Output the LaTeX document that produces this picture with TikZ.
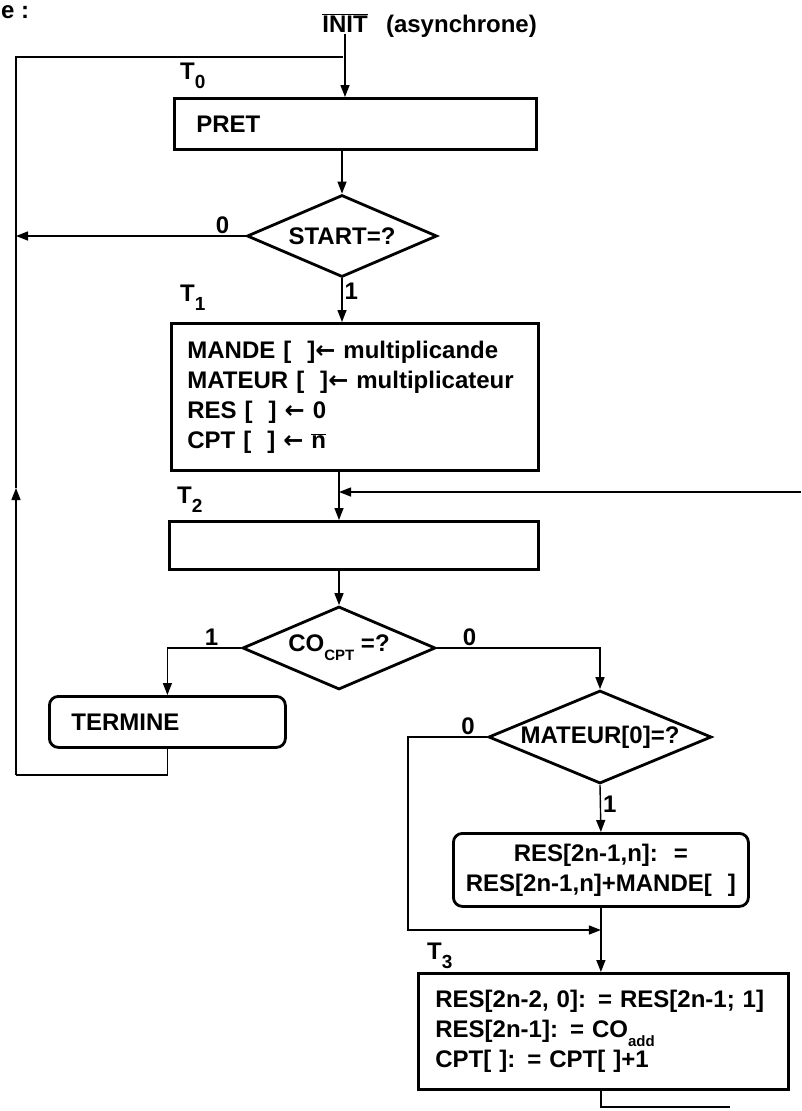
\documentclass[tikz,border=0pt]{standalone}
\usepackage{fontspec}
\setmainfont{Liberation Sans}
\newfontfamily\flechefont{DejaVu Sans}
\usetikzlibrary{shapes.geometric,arrows.meta,positioning}

% indices abaisses (T0, COcpt, COadd) et fleche d'affectation
\newcommand\lowsub[1]{\raisebox{-9pt}{\fontsize{19}{19}\selectfont #1}}
\newcommand\petitsub[1]{\raisebox{-9pt}{\fontsize{15}{15}\selectfont #1}}
\newcommand\recoit{{\flechefont\bfseries ←}}

\tikzset{
  bloc/.style={draw, line width=2.8pt, anchor=north west, inner xsep=0pt, inner ysep=0pt, align=left},
  arrondi/.style={bloc, rounded corners=9pt},
  test/.style={draw, diamond, line width=2.8pt, inner sep=-6pt, aspect=2.3},
  fil/.style={line width=1.4pt},
  fleche/.style={fil, -{Triangle[length=12pt,width=9pt]}},
  etiq/.style={anchor=base west, inner sep=0pt},
}

\begin{document}
\begin{tikzpicture}[x=1pt, y=-1pt, inner sep=2pt, font=\fontsize{24}{30}\selectfont\bfseries]
\useasboundingbox (0,0) rectangle (801,1111);

\node[etiq] (titre) at (1,18) {e :};
\node[anchor=base] (init) at (345,32) {$\overline{\mbox{INIT}}$};
\node[base right=14pt of init] (asyn) {(asynchrone)};

% etats et tests
\node[etiq] (t0) at (180,79) {T\lowsub{0}};
\node[bloc, minimum width=362pt, minimum height=51pt, text width=318pt] (pret) at (173,97) {PRET};
\node[test, minimum width=190pt, minimum height=82pt] (start) at (342,236) {START=?};

\node[etiq] (t1) at (180,301) {T\lowsub{1}};
\node[bloc, minimum width=367pt, minimum height=147pt, text width=335pt] (init1) at (170,322)
  {MANDE [\ \ ]\recoit{} multiplicande\\
   MATEUR [\ \ ]\recoit{} multiplicateur\\
   RES [\ \ ] \recoit{} 0\\
   CPT [\ \ ] \recoit{} $\overline{\mbox{n}}$};

\node[etiq] (t2) at (177,503) {T\lowsub{2}};
\node[bloc, minimum width=369pt, minimum height=48pt, text width=300pt] (vide) at (168,520) {};
\node[test, minimum width=193pt, minimum height=83pt] (co) at (339,648) {CO\petitsub{CPT} =?};

\node[arrondi, minimum width=236pt, minimum height=51pt, text width=192pt] (termine) at (48,695) {TERMINE};
\node[test, minimum width=223pt, minimum height=93pt] (mateur) at (600,737) {MATEUR[0]=?};
\node[arrondi, align=center, minimum width=295pt, minimum height=73pt, text width=287pt] (ajout) at (452,832)
  {RES[2n-1,n]:\ \ =\\ RES[2n-1,n]+MANDE[\ \ ]};

\node[etiq] (t3) at (427,959) {T\lowsub{3}};
\node[bloc, minimum width=370pt, minimum height=116pt, text width=336pt] (decal) at (417,972)
  {RES[2n-2, 0]: = RES[2n-1; 1]\\
   RES[2n-1]: = CO\petitsub{add}\\
   CPT[ ]: = CPT[ ]+1};

% liaisons
\coordinate (haut) at (343,57);
\coordinate (coinbas) at (16,775);
\coordinate (remonte) at (16,488);
\coordinate (retour) at (801,492);
\coordinate (gauche) at (408,930);
\coordinate (sortie) at (730,1107);

\draw[fleche] (init.south) -- (init.south |- pret.north);
\draw[fil] (termine.south) |- (coinbas);
\draw[fleche] (coinbas) -- (remonte);
\draw[fil] (remonte) |- (haut);

\draw[fleche] (start.north |- pret.south) -- (start.north);
\draw[fleche] (start.west) -- node[pos=0.1, above] {0} (start.west -| coinbas);
\draw[fleche] (start.south) -- node[pos=0.3, right] {1} (start.south |- init1.north);

\draw[fleche] (init1.south -| co.north) -- (vide.north -| co.north);
\draw[fleche] (retour) -- (retour -| co.north);
\draw[fleche] (vide.south -| co.north) -- (co.north);

\draw[fleche] (co.west) -| node[pos=0.2, above] {1} (termine.north);
\draw[fleche] (co.east) -| node[pos=0.1, above] {0} (mateur.north);

\draw[fleche] (mateur.west) -| node[pos=0.12, above] {0} (gauche) -- (gauche -| ajout.south);
\draw[fleche] (mateur.south) -- node[pos=0.4, right] {1} (ajout.north);
\draw[fleche] (ajout.south) -- (ajout.south |- decal.north);
\draw[fil] (decal.south -| ajout.south) |- (sortie);
\end{tikzpicture}
\end{document}
